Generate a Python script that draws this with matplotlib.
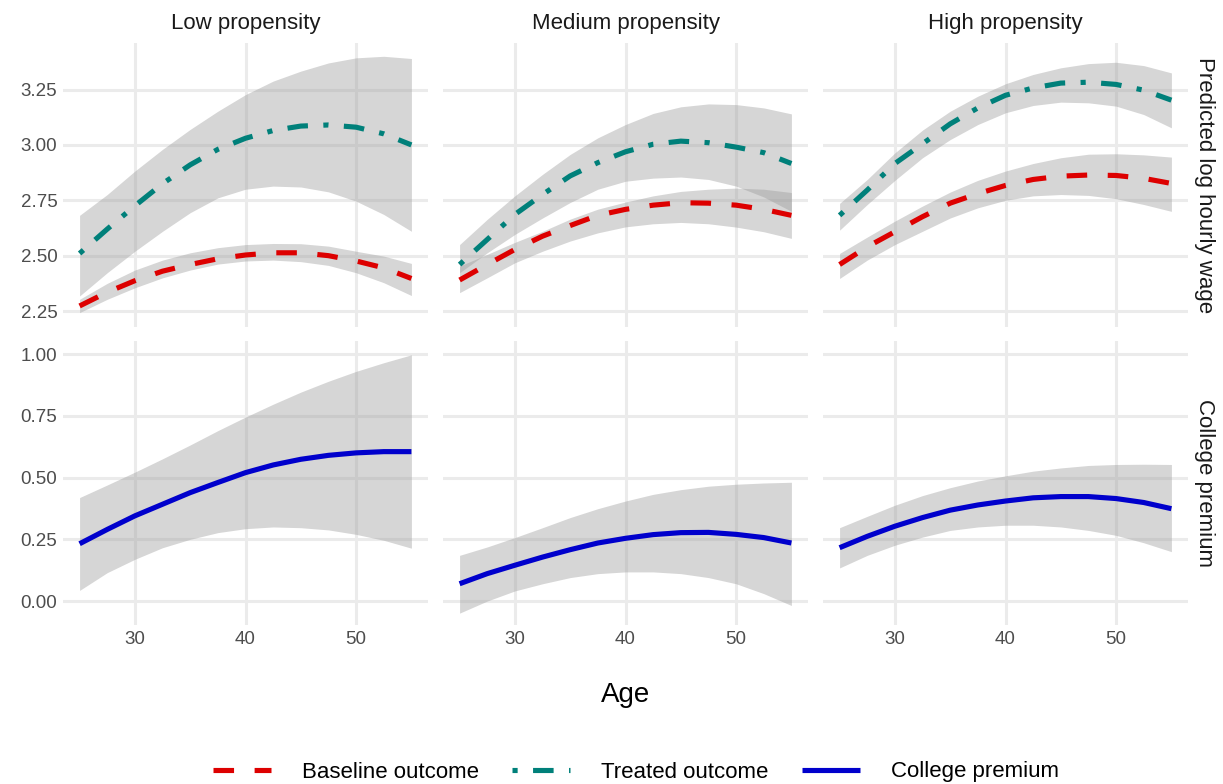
import numpy as np
import matplotlib
matplotlib.use("Agg")
import matplotlib.pyplot as plt
from matplotlib.lines import Line2D

plt.rcParams['font.family'] = ['Liberation Sans', 'DejaVu Sans']

age = [25, 27.5, 30, 32.5, 35, 37.5, 40, 42.5, 45, 47.5, 50, 52.5, 55]

panels = ["Low propensity", "Medium propensity", "High propensity"]
row_labels = ["Predicted log hourly wage", "College premium"]

# Low propensity
low_base = [2.273, 2.335, 2.387, 2.43, 2.46, 2.486, 2.503, 2.513, 2.513, 2.50, 2.476, 2.445, 2.397]
low_base_lo = [2.243, 2.303, 2.355, 2.40, 2.435, 2.462, 2.476, 2.48, 2.473, 2.456, 2.423, 2.378, 2.32]
low_base_hi = [2.303, 2.375, 2.435, 2.48, 2.513, 2.536, 2.55, 2.555, 2.554, 2.543, 2.52, 2.498, 2.465]
low_treat = [2.51, 2.62, 2.725, 2.825, 2.91, 2.98, 3.03, 3.065, 3.085, 3.09, 3.08, 3.05, 3.00]
low_treat_lo = [2.318, 2.423, 2.52, 2.61, 2.694, 2.761, 2.80, 2.814, 2.81, 2.788, 2.746, 2.686, 2.61]
low_treat_hi = [2.682, 2.776, 2.882, 2.98, 3.07, 3.152, 3.227, 3.288, 3.333, 3.37, 3.393, 3.40, 3.39]
low_prem = [0.232, 0.29, 0.345, 0.392, 0.439, 0.48, 0.52, 0.551, 0.574, 0.59, 0.60, 0.605, 0.605]
low_prem_lo = [0.043, 0.115, 0.169, 0.216, 0.25, 0.277, 0.293, 0.30, 0.297, 0.288, 0.27, 0.246, 0.214]
low_prem_hi = [0.419, 0.47, 0.522, 0.576, 0.632, 0.69, 0.745, 0.797, 0.846, 0.89, 0.93, 0.965, 0.997]

# Medium propensity
med_base = [2.39, 2.46, 2.528, 2.588, 2.636, 2.682, 2.709, 2.728, 2.739, 2.737, 2.728, 2.709, 2.682]
med_base_lo = [2.333, 2.40, 2.468, 2.52, 2.566, 2.603, 2.63, 2.644, 2.65, 2.644, 2.629, 2.608, 2.578]
med_base_hi = [2.453, 2.506, 2.56, 2.61, 2.665, 2.71, 2.742, 2.77, 2.79, 2.80, 2.805, 2.80, 2.785]
med_treat = [2.46, 2.573, 2.686, 2.776, 2.86, 2.92, 2.969, 3.003, 3.017, 3.01, 2.99, 2.965, 2.916]
med_treat_lo = [2.423, 2.513, 2.596, 2.67, 2.74, 2.80, 2.836, 2.85, 2.855, 2.844, 2.814, 2.765, 2.70]
med_treat_hi = [2.55, 2.664, 2.77, 2.867, 2.957, 3.032, 3.092, 3.142, 3.172, 3.185, 3.182, 3.167, 3.14]
med_prem = [0.07, 0.111, 0.145, 0.178, 0.208, 0.235, 0.254, 0.269, 0.277, 0.278, 0.27, 0.257, 0.235]
med_prem_lo = [-0.049, 0.0, 0.041, 0.07, 0.095, 0.111, 0.118, 0.118, 0.111, 0.095, 0.07, 0.03, -0.018]
med_prem_hi = [0.185, 0.219, 0.257, 0.297, 0.338, 0.374, 0.405, 0.432, 0.451, 0.465, 0.473, 0.478, 0.481]

# High propensity
high_base = [2.46, 2.54, 2.608, 2.676, 2.737, 2.78, 2.817, 2.844, 2.859, 2.864, 2.862, 2.849, 2.826]
high_base_lo = [2.397, 2.48, 2.55, 2.61, 2.67, 2.716, 2.75, 2.77, 2.776, 2.772, 2.757, 2.731, 2.70]
high_base_hi = [2.51, 2.584, 2.656, 2.724, 2.787, 2.84, 2.882, 2.916, 2.942, 2.958, 2.96, 2.955, 2.945]
high_treat = [2.682, 2.796, 2.916, 3.005, 3.095, 3.167, 3.224, 3.257, 3.279, 3.283, 3.273, 3.247, 3.202]
high_treat_lo = [2.615, 2.731, 2.84, 2.942, 3.024, 3.092, 3.145, 3.178, 3.193, 3.19, 3.175, 3.137, 3.077]
high_treat_hi = [2.736, 2.844, 2.964, 3.067, 3.152, 3.22, 3.276, 3.318, 3.348, 3.367, 3.373, 3.358, 3.325]
high_prem = [0.216, 0.262, 0.303, 0.338, 0.368, 0.389, 0.405, 0.418, 0.423, 0.423, 0.415, 0.399, 0.374]
high_prem_lo = [0.134, 0.185, 0.226, 0.259, 0.286, 0.30, 0.307, 0.307, 0.30, 0.286, 0.266, 0.236, 0.20]
high_prem_hi = [0.297, 0.343, 0.388, 0.427, 0.459, 0.486, 0.507, 0.526, 0.539, 0.549, 0.553, 0.554, 0.553]

wage_ticks = [2.25, 2.50, 2.75, 3.00, 3.25]
prem_ticks = [0.00, 0.25, 0.50, 0.75, 1.00]
age_ticks = [30, 40, 50]

top_data = [
    (low_base, low_base_lo, low_base_hi, low_treat, low_treat_lo, low_treat_hi),
    (med_base, med_base_lo, med_base_hi, med_treat, med_treat_lo, med_treat_hi),
    (high_base, high_base_lo, high_base_hi, high_treat, high_treat_lo, high_treat_hi),
]
bot_data = [
    (low_prem, low_prem_lo, low_prem_hi),
    (med_prem, med_prem_lo, med_prem_hi),
    (high_prem, high_prem_lo, high_prem_hi),
]

RED = '#DD0000'
TEAL = '#00807A'
BLUE = '#0000CC'
RIB = '#999999'
GRID = '#EBEBEB'
LW = 3.7

W, H = 1223, 784
fig = plt.figure(figsize=(W / 100, H / 100), dpi=100)

lefts = [63, 443, 823]
pw = 365
tops = [43, 341]
ph = 284


def style(ax, yt, show_y, show_x):
    ax.set_xlim(23.5, 56.5)
    ax.set_xticks(age_ticks)
    ax.set_yticks(yt)
    ax.yaxis.set_major_formatter(matplotlib.ticker.FormatStrFormatter('%.2f'))
    ax.grid(True, color=GRID, linewidth=2.2)
    ax.set_axisbelow(True)
    for s in ax.spines.values():
        s.set_visible(False)
    ax.tick_params(length=0, labelsize=13.5, labelcolor='#4D4D4D', pad=4)
    if not show_y:
        ax.tick_params(labelleft=False)
    if not show_x:
        ax.tick_params(labelbottom=False)


for i in range(3):
    # top row
    ax = fig.add_axes([lefts[i] / W, 1 - (tops[0] + ph) / H, pw / W, ph / H])
    b, blo, bhi, t, tlo, thi = top_data[i]
    ax.fill_between(age, blo, bhi, color=RIB, alpha=0.4, linewidth=0)
    ax.plot(age, b, color=RED, lw=LW, linestyle=(0, (4, 4)), dash_capstyle='butt')
    ax.fill_between(age, tlo, thi, color=RIB, alpha=0.4, linewidth=0)
    ax.plot(age, t, color=TEAL, lw=LW, linestyle=(0, (1, 3, 4, 3)), dash_capstyle='butt')
    ax.set_ylim(2.178, 3.46)
    style(ax, wage_ticks, i == 0, False)
    ax.set_title(panels[i], fontsize=16, color='#1A1A1A', pad=10)
    if i == 2:
        ax.text(1.045, 0.5, row_labels[0], transform=ax.transAxes, rotation=-90,
                ha='center', va='center', fontsize=16, color='#1A1A1A')

    # bottom row
    ax = fig.add_axes([lefts[i] / W, 1 - (tops[1] + ph) / H, pw / W, ph / H])
    p, plo, phi = bot_data[i]
    ax.fill_between(age, plo, phi, color=RIB, alpha=0.4, linewidth=0)
    ax.plot(age, p, color=BLUE, lw=LW, solid_capstyle='butt')
    ax.set_ylim(-0.097, 1.053)
    style(ax, prem_ticks, i == 0, True)
    if i == 2:
        ax.text(1.045, 0.5, row_labels[1], transform=ax.transAxes, rotation=-90,
                ha='center', va='center', fontsize=16, color='#1A1A1A')

fig.text(625.5 / W, 1 - 695 / H, "Age", ha='center', va='center', fontsize=20, color='black')

handles = [
    Line2D([], [], color=RED, lw=LW, linestyle=(0, (4, 4)), dash_capstyle='butt'),
    Line2D([], [], color=TEAL, lw=LW, linestyle=(0, (1, 3, 4, 3)), dash_capstyle='butt'),
    Line2D([], [], color=BLUE, lw=LW, solid_capstyle='butt'),
]
labels = ["Baseline outcome", "Treated outcome", "College premium"]
fig.legend(handles, labels, loc='center', bbox_to_anchor=(636 / W, 1 - 772 / H), ncol=3,
           frameon=False, fontsize=16, handlelength=2.6, handletextpad=1.4,
           columnspacing=1.5)

fig.savefig("out.png", dpi=100)
